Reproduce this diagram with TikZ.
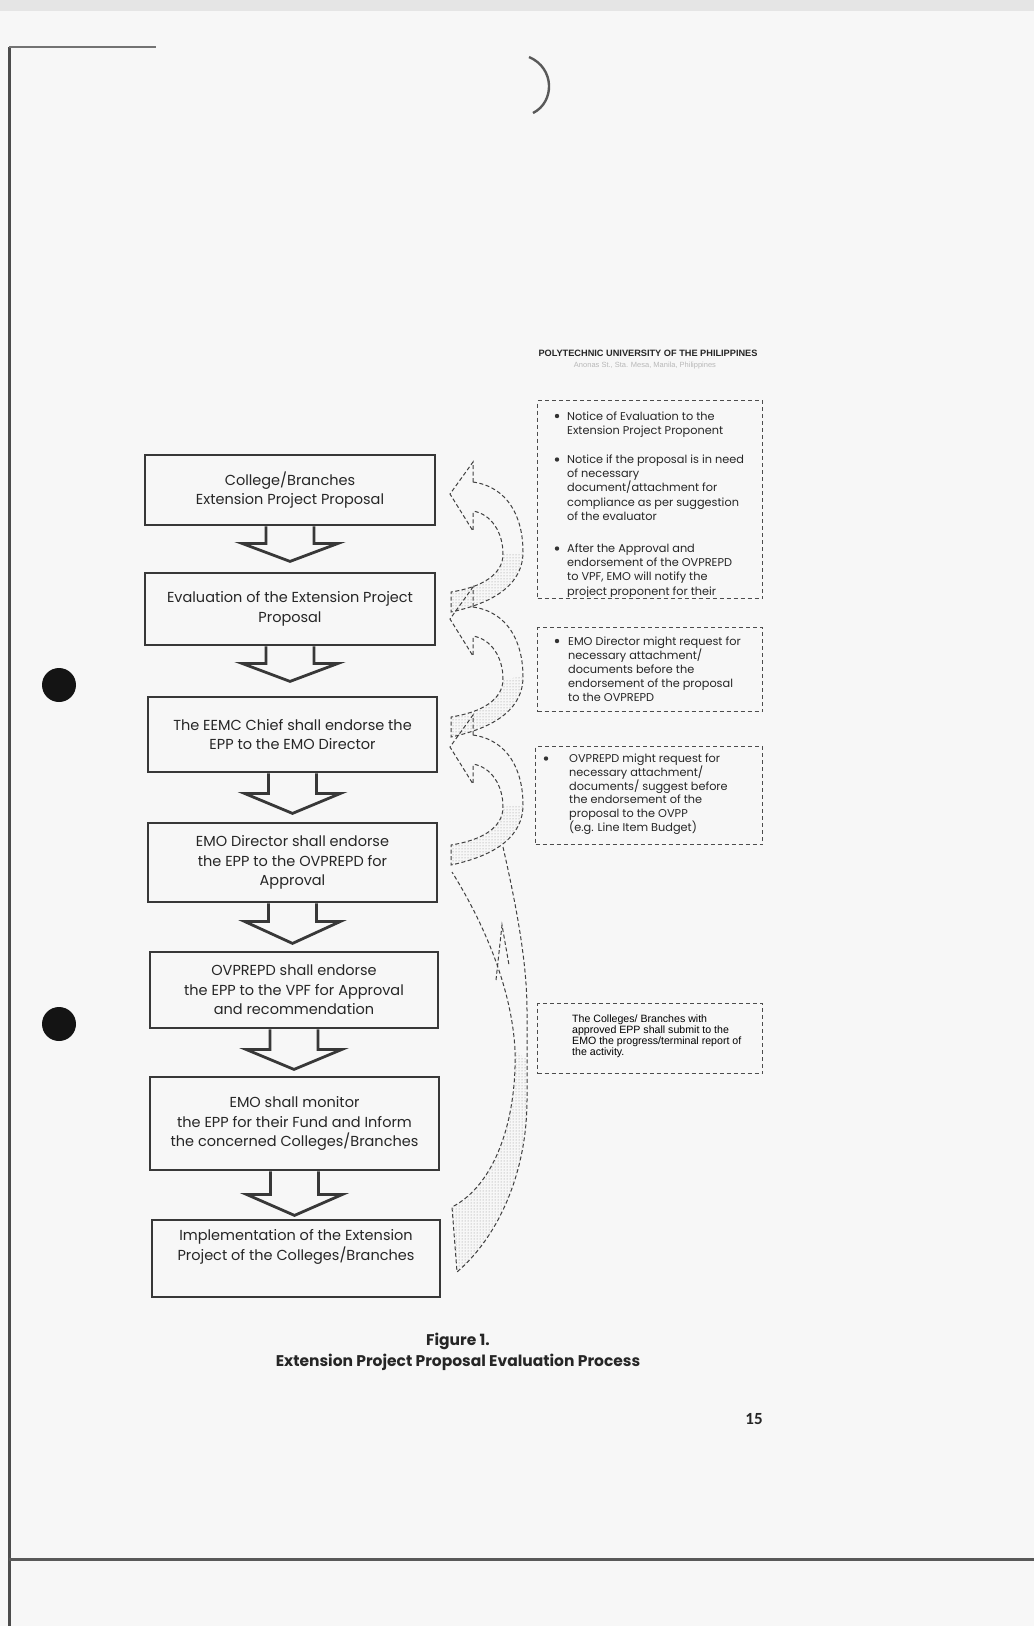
\documentclass[tikz,border=0pt]{standalone}
\usepackage{fontspec}
\setmainfont{Poppins}
\newfontfamily\libsans{Liberation Sans}
\newfontfamily\carlito{Carlito}
\usetikzlibrary{calc,patterns}

\newcommand\curvArr[1]{%
\begin{scope}[shift={(473,#1)}]
 \fill[stipple] (50,90) .. controls (50,120) and (25,140) .. (-22,150) -- (-22,130) .. controls (10,125) and (30,112) .. (30,92) -- cycle;
 \draw[curvedash] (0,20) -- (0,0) -- (-23,32) -- (0,69) -- (0,49);
 \draw[curvedash] (0,20) .. controls (35,25) and (50,55) .. (50,90) .. controls (50,120) and (25,140) .. (-22,150) -- (-22,130) .. controls (10,125) and (30,112) .. (30,92) .. controls (30,70) and (18,52) .. (0,49);
\end{scope}}

\newcommand\blockArr[3]{%
\draw[blockarrow] ($(#1.south)+(-24,0)$) -- ($(#1.south)+(-24,#2)$) -- ($(#1.south)+(-48,#2)$) -- ($(#1.south)+(0,#3)$) -- ($(#1.south)+(48,#2)$) -- ($(#1.south)+(24,#2)$) -- ($(#1.south)+(24,0)$);}

\newcommand\ntext[2]{\parbox[t]{#1}{\raggedright #2}}

\begin{document}
\begin{tikzpicture}[x=1pt,y=-1pt,
  flowbox/.style={draw=black!78, line width=2.8pt, align=center, inner sep=0pt, font=\fontsize{14.5}{19.5}\selectfont, text=black!85},
  blockarrow/.style={draw=black!78, line width=2.8pt, line join=miter},
  dashbox/.style={draw=black!70, line width=1.1pt, dash pattern=on 4pt off 3pt, inner sep=0pt},
  curvedash/.style={draw=black!75, line width=1pt, dash pattern=on 4pt off 2.5pt},
  stipple/.style={pattern=dots, pattern color=black!45},
  noteA/.style={font=\fontsize{11.3}{14.2}\selectfont, text=black!85, inner sep=0pt},
  noteB/.style={font=\fontsize{11.3}{14}\selectfont, text=black!85, inner sep=0pt},
  noteC/.style={font=\fontsize{11.3}{13.8}\selectfont, text=black!85, inner sep=0pt},
  noteD/.style={font=\libsans\fontsize{10.6}{11}\selectfont, text=black, inner sep=0pt},
  bul/.style={fill=black!80},
]
\useasboundingbox (0,0) rectangle (1034,1626);
\fill[black!3] (0,0) rectangle (1034,1626);
\fill[black!10] (0,0) rectangle (1034,11);

% page furniture
\draw[black!70, line width=3pt] (9,47) -- (9,1626);
\draw[black!55, line width=1.5pt] (9,47) -- (156,47);
\draw[black!65, line width=3pt] (9,1559) -- (1034,1559);
\draw[black!65, line width=2.4pt] (529,57) .. controls (555,68) and (555,102) .. (533,113);
\fill[black!92] (59,685) circle (17pt);
\fill[black!92] (59,1024) circle (17pt);

% header
\node[font=\libsans\bfseries\fontsize{9.2}{11}\selectfont, text=black!85, inner sep=0pt] (hdr) at (648,353) {POLYTECHNIC UNIVERSITY OF THE PHILIPPINES};
\node[font=\libsans\fontsize{7.5}{9}\selectfont, text=black!28, inner sep=0pt] (hdr2) at (645,366) {Anonas St., Sta. Mesa, Manila, Philippines};

% flow boxes
\node[flowbox, minimum width=290, minimum height=70] (b1) at (290,490) {College/Branches\\Extension Project Proposal};
\node[flowbox, minimum width=290, minimum height=72] (b2) at (290,609) {Evaluation of the Extension Project\\Proposal};
\node[flowbox, minimum width=289, minimum height=75] (b3) at (292.5,734.5) {The EEMC Chief shall endorse the\\EPP to the EMO Director};
\node[flowbox, minimum width=289, minimum height=79] (b4) at (292.5,862.5) {EMO Director shall endorse\\the EPP to the OVPREPD for\\Approval};
\node[flowbox, minimum width=288, minimum height=76] (b5) at (294,990) {OVPREPD shall endorse\\the EPP to the VPF for Approval\\and recommendation};
\node[flowbox, minimum width=289, minimum height=93] (b6) at (294.5,1123.5) {EMO shall monitor\\the EPP for their Fund and Inform\\the concerned Colleges/Branches};
\node[flowbox, minimum width=288, minimum height=77] (b7) at (296,1258.5) {Implementation of the Extension\\Project of the Colleges/Branches\\[8pt]};

% block arrows
\blockArr{b1}{17}{35}
\blockArr{b2}{17}{35}
\blockArr{b3}{20}{40}
\blockArr{b4}{18}{40}
\blockArr{b5}{20}{40}
\blockArr{b6}{23}{44}

% curved dashed arrows
\curvArr{462}
\curvArr{587}
\curvArr{715}
\fill[stipple] (527,1060) -- (527,1100) .. controls (527,1170) and (500,1235) .. (457,1272) -- (452,1207) .. controls (495,1185) and (517,1120) .. (515,1050) -- cycle;
\draw[curvedash] (503,847) .. controls (515,900) and (527,960) .. (527,1010) -- (527,1100) .. controls (527,1170) and (500,1235) .. (457,1272) -- (452,1207) .. controls (495,1185) and (517,1120) .. (515,1050) .. controls (512,990) and (485,925) .. (452,872);
\draw[curvedash] (496,980) -- (502,925) -- (509,965);

% note box A
\node[dashbox, minimum width=225, minimum height=198, anchor=north west] (na) at (537,400) {};
\begin{scope}
\clip (537,400) rectangle (762,596);
\fill[bul] (557,416) circle (2.2pt);
\node[noteA, anchor=base west] (na1t) at (567,420) {\ntext{193pt}{Notice of Evaluation to the\\Extension Project Proponent}};
\fill[bul] (557,459.5) circle (2.2pt);
\node[noteA, anchor=base west] (na2t) at (567,463.5) {\ntext{193pt}{Notice if the proposal is in need\\of necessary\\document/attachment for\\compliance as per suggestion\\of the evaluator}};
\fill[bul] (557,548.5) circle (2.2pt);
\node[noteA, anchor=base west] (na3t) at (567,552.5) {\ntext{193pt}{After the Approval and\\endorsement of the OVPREPD\\to VPF, EMO will notify the\\project proponent for their}};
\end{scope}

% note box B
\node[dashbox, minimum width=225, minimum height=84, anchor=north west] (nb) at (537,627) {};
\fill[bul] (557,641) circle (2.2pt);
\node[noteB, anchor=base west] (nb1t) at (568,645) {\ntext{190pt}{EMO Director might request for\\necessary attachment/\\documents before the\\endorsement of the proposal\\to the OVPREPD}};

% note box C
\node[dashbox, minimum width=227, minimum height=98, anchor=north west] (nc) at (535,746) {};
\fill[bul] (546,758.5) circle (2.2pt);
\node[noteC, anchor=base west] (nc1t) at (569,762.5) {\ntext{190pt}{OVPREPD might request for\\necessary attachment/\\documents/ suggest before\\the endorsement of the\\proposal to the OVPP\\(e.g. Line Item Budget)}};

% note box D
\node[dashbox, minimum width=225, minimum height=70, anchor=north west] (nd) at (537,1003) {};
\node[noteD, anchor=base west] (nd1t) at (572,1022.5) {\ntext{185pt}{The Colleges/ Branches with\\approved EPP shall submit to the\\EMO the progress/terminal report of\\the activity.}};

% caption
\node[font=\bfseries\fontsize{15.5}{18}\selectfont, text=black!85, inner sep=0pt] (fig) at (458,1341) {Figure 1.};
\node[font=\bfseries\fontsize{15.5}{18}\selectfont, text=black!85, inner sep=0pt] (cap) at (458,1362) {Extension Project Proposal Evaluation Process};

% page number
\node[font=\carlito\bfseries\fontsize{17}{17}\selectfont, text=black!85, inner sep=0pt] (pg) at (754,1419) {15};
\end{tikzpicture}
\end{document}
